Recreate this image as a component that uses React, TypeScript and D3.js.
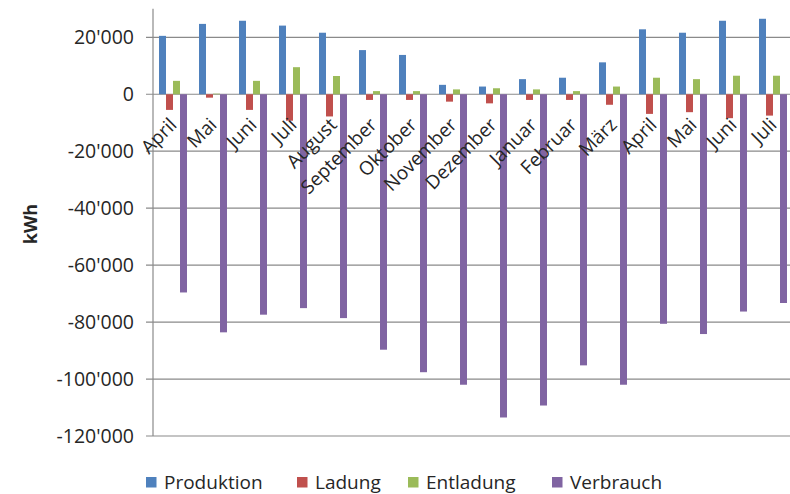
import React from "react";
import * as d3 from "d3";

const categories = ["April", "Mai", "Juni", "Juli", "August", "September", "Oktober", "November", "Dezember", "Januar", "Februar", "März", "April", "Mai", "Juni", "Juli"];
const produktion = [20500, 24700, 25800, 24100, 21600, 15500, 13800, 3300, 2700, 5300, 5800, 11200, 22800, 21600, 25800, 26500];
const ladung = [-5500, -1200, -5500, -9300, -7800, -2000, -2000, -2600, -3200, -2000, -2000, -3700, -6900, -6300, -8400, -7500];
const entladung = [4700, 200, 4700, 9500, 6400, 1100, 1100, 1700, 2100, 1700, 1100, 2700, 5800, 5300, 6500, 6500];
const verbrauch = [-69600, -83600, -77400, -75100, -78600, -89700, -97600, -102000, -113500, -109300, -95200, -102000, -80600, -84200, -76300, -73300];
const seriesNames = ["Produktion", "Ladung", "Entladung", "Verbrauch"];
const seriesColors = ["#4F81BD", "#C0504D", "#9BBB59", "#8064A2"];
const yTicks = [20000, 0, -20000, -40000, -60000, -80000, -100000, -120000];
const yTitle = "kWh";

const W = 790;
const H = 494;
const FONT = "'Open Sans', 'Noto Sans', sans-serif";

export default function App() {
  const series = [produktion, ladung, entladung, verbrauch];
  const plotLeft = 153;
  const plotRight = 793;
  const y = d3.scaleLinear().domain([-120000, 30000]).range([436, 8.8]);
  const x0 = d3
    .scaleBand<number>()
    .domain(categories.map((_, i) => i))
    .range([plotLeft, plotRight])
    .paddingInner(0.3)
    .paddingOuter(0.15);
  const x1 = d3
    .scaleBand<number>()
    .domain(seriesNames.map((_, i) => i))
    .range([0, x0.bandwidth()]);
  const step = x0.step();
  const fmt = d3
    .formatLocale({ decimal: ".", thousands: "'", grouping: [3], currency: ["", ""], minus: "-" })
    .format(",");

  const legendX = [146, 297, 408, 552];

  return (
    <svg
      width={W}
      height={H}
      style={{ position: "absolute", left: 0, top: 0, background: "#fff" }}
      fontFamily={FONT}
    >
      <rect x={0} y={0} width={W} height={H} fill="#fff" />
      {/* gridlines */}
      {yTicks.map((t) => (
        <line
          key={"g" + t}
          x1={plotLeft - 7}
          x2={W}
          y1={y(t)}
          y2={y(t)}
          stroke="#8a8a8a"
          strokeWidth={1.2}
        />
      ))}
      {/* y axis line */}
      <line x1={plotLeft} x2={plotLeft} y1={y(30000)} y2={y(-120000)} stroke="#8a8a8a" strokeWidth={1.2} />
      {/* tick labels */}
      {yTicks.map((t) => (
        <text
          key={"t" + t}
          x={134}
          y={y(t)}
          dy="0.36em"
          textAnchor="end"
          fontSize={19.5}
          fill="#262626"
        >
          {fmt(t)}
        </text>
      ))}
      {/* bars */}
      {series.map((vals, si) =>
        vals.map((v, i) => {
          const bx = (x0(i) as number) + (x1(si) as number);
          const y0 = y(0);
          const yv = y(v);
          return (
            <rect
              key={si + "-" + i}
              x={bx}
              y={Math.min(y0, yv)}
              width={x1.bandwidth()}
              height={Math.abs(yv - y0)}
              fill={seriesColors[si]}
            />
          );
        })
      )}
      {/* category labels */}
      {categories.map((c, i) => {
        const cx = (x0(i) as number) - x0.paddingInner() * step * 0.5 + step / 2 + 5;
        const cy = 126;
        return (
          <text
            key={"c" + i}
            transform={`translate(${cx},${cy}) rotate(-45)`}
            textAnchor="end"
            fontSize={19}
            fill="#262626"
          >
            {c}
          </text>
        );
      })}
      {/* y title */}
      <text
        transform="translate(37,224) rotate(-90)"
        textAnchor="middle"
        fontSize={18}
        fontWeight="bold"
        fill="#262626"
      >
        {yTitle}
      </text>
      {/* legend */}
      {seriesNames.map((n, i) => (
        <g key={"l" + n} transform={`translate(${legendX[i]},0)`}>
          <rect x={0} y={477} width={10.5} height={10.5} fill={seriesColors[i]} />
          <text x={18} y={482.5} dy="0.36em" fontSize={19} fill="#262626">
            {n}
          </text>
        </g>
      ))}
    </svg>
  );
}
